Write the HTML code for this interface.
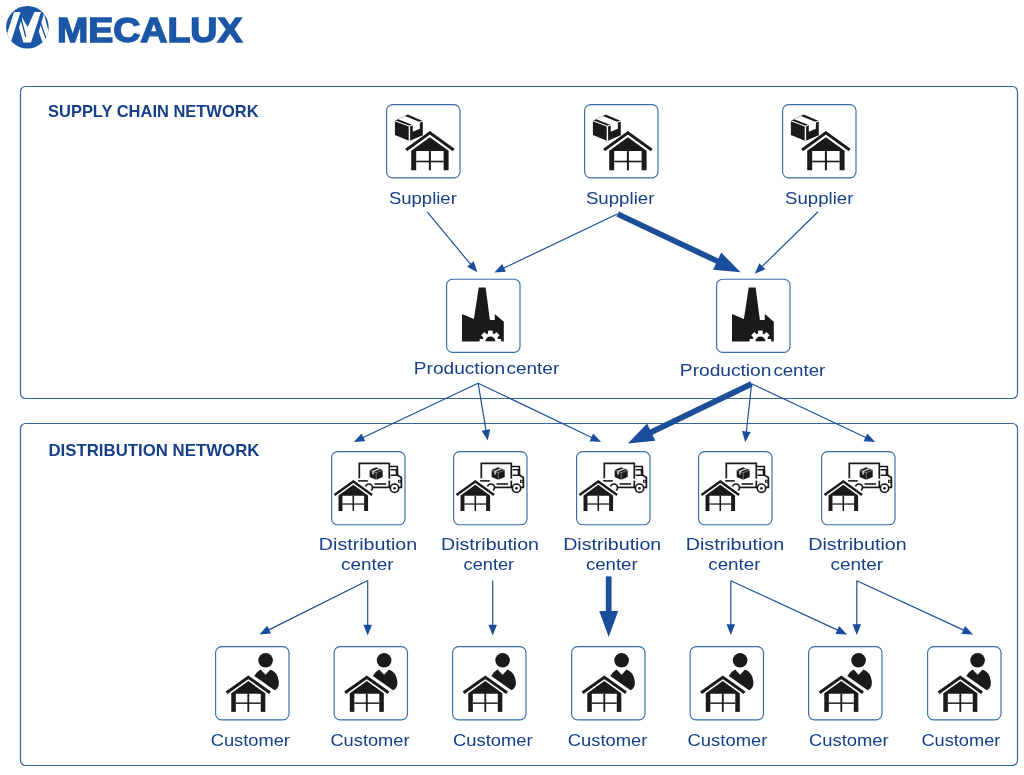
<!DOCTYPE html>
<html><head><meta charset="utf-8">
<style>
html,body{margin:0;padding:0;background:#fff;}
body{width:1024px;height:775px;overflow:hidden;position:relative;font-family:"Liberation Sans",sans-serif;}
svg{position:absolute;left:0;top:0;will-change:transform;}
.lbl{font-family:"Liberation Sans",sans-serif;font-size:17px;fill:#163f88;}
.hd{font-family:"Liberation Sans",sans-serif;font-size:17px;font-weight:bold;fill:#163f88;}
</style></head>
<body>
<svg width="1024" height="775" viewBox="0 0 1024 775">
<defs>
  <!-- house: apex outer at (0,0) -->
  <g id="house">
    <path d="M0,6.1 L18.7,19.6 L18.7,39.2 L13.7,39.2 L13.7,20 L-13.7,20 L-13.7,39.2 L-18.7,39.2 L-18.7,19.6 Z" fill="#1a1a1a"/>
    <rect x="-1" y="20" width="2" height="19.2" fill="#1a1a1a"/>
    <rect x="-13.7" y="29.6" width="27.4" height="1.6" fill="#1a1a1a"/>
  </g>
  <g id="ibox">
    <rect x="0.6" y="0.6" width="73.4" height="73.2" rx="6" ry="6" fill="none" stroke="#3a6ca8" stroke-width="1.15"/>
  </g>
  <g id="sup">
    
    <g transform="translate(43.9,27.1)"><polyline points="-23.8,18.9 0,1.79 23.8,18.9" fill="none" stroke="#1a1a1a" stroke-width="2.9"/><use href="#house"/></g>
    <!-- package -->
    <g>
      <polygon points="8.90,16.80 21.80,10.60 36.80,16.90 36.80,31.20 23.40,37.00 8.90,31.10" fill="#1a1a1a"/>
      <polyline points="8.90,16.80 23.40,22.20 36.80,16.90" fill="none" stroke="#fff" stroke-width="1.1"/>
      <line x1="23.40" y1="22.20" x2="23.40" y2="38.00" stroke="#fff" stroke-width="1.4"/>
      <polygon points="12.12,15.25 26.75,20.88 33.85,18.07 18.96,11.96" fill="#fff"/>
      <polygon points="26.75,20.6 33.85,17.8 33.85,24.87 26.75,27.68" fill="#fff"/>
    </g>
    <use href="#ibox"/>
  </g>
  <g id="fac">
    <path d="M32.7,9 L39.6,9 L43.9,41.3 L48.8,41.3 L48.8,35.4 L57.8,43.1 L57.8,63 L16,63 L16,35.4 L27.9,40.4 Z" fill="#1a1a1a"/>
    <g transform="translate(44.4,62.7)" fill="#fff">
      <circle r="8"/>
      <rect x="-2.3" y="-10.7" width="4.6" height="5" transform="rotate(0)"/>
      <rect x="-2.3" y="-10.7" width="4.6" height="5" transform="rotate(45)"/>
      <rect x="-2.3" y="-10.7" width="4.6" height="5" transform="rotate(90)"/>
      <rect x="-2.3" y="-10.7" width="4.6" height="5" transform="rotate(-45)"/>
      <rect x="-2.3" y="-10.7" width="4.6" height="5" transform="rotate(-90)"/>
      <path d="M-5,0.3 A5,5 0 0,1 5,0.3 Z" fill="#1a1a1a"/>
      <rect x="-12" y="0.3" width="24" height="10" fill="#fff"/>
    </g>
    <use href="#ibox"/>
  </g>
  <g id="dist">
    <g fill="none" stroke="#1a1a1a" stroke-width="1.7">
      <polyline points="28.3,27.2 28.3,12.3 58.3,12.3 58.3,27.8"/>
      <line x1="58.3" y1="29.6" x2="58.3" y2="37"/>
      <line x1="27" y1="29.9" x2="36.8" y2="29.9" stroke-width="1.6"/>
      <line x1="43.6" y1="33" x2="55" y2="33" stroke-width="1.6"/>
      <polyline points="58.6,15.5 66.3,15.5 66.6,24.2 70.4,26.4 70.4,36.4 68,36.4"/>
      <line x1="41.5" y1="36.4" x2="59.3" y2="36.4"/>
      <polyline points="59.6,18.8 65.3,18.8 65.6,24.3 59.6,24.3" stroke-width="1.5"/>
      <rect x="67.5" y="29.3" width="2.4" height="2" stroke-width="1"/>
      <circle cx="37.9" cy="36.6" r="3.6"/>
      <circle cx="63.5" cy="37.2" r="4.2"/>
    </g>
    <circle cx="63.5" cy="37.2" r="1.3" fill="#1a1a1a"/>
    <g transform="translate(45.2,22) scale(0.5)">
      <polygon points="-13,-6 0,-11.5 13,-6 13,8 0,13.5 -13,8" fill="#1a1a1a"/>
      <polyline points="-13,-6 0,-0.5 13,-6" fill="none" stroke="#fff" stroke-width="1.2" opacity="0.7"/>
      <line x1="0" y1="-0.5" x2="0" y2="14" stroke="#fff" stroke-width="1.3" opacity="0.6"/>
      <polygon points="-8.06,-3.91 -4.94,-2.59 8.06,-8.09 4.94,-9.41" fill="#fff" opacity="0.85"/>
      <polygon points="-8.06,-3.91 -4.94,-2.59 -4.94,3.6 -8.06,2.3" fill="#fff" opacity="0.85"/>
    </g>
    <g transform="translate(22.3,29) scale(0.79)">
      <polyline points="-27,20.6 0,1.79 27,20.6" fill="none" stroke="#fff" stroke-width="7"/>
      <polyline points="-23.8,18.9 0,1.79 23.8,18.9" fill="none" stroke="#1a1a1a" stroke-width="3"/>
      <use href="#house"/>
    </g>
    <use href="#ibox"/>
  </g>
  <g id="cust">
    <circle cx="50.6" cy="14.3" r="7.3" fill="#1a1a1a"/>
    <path d="M39.3,29.9 Q41.5,25.8 45.6,23.6 L50.6,28.8 L55.5,23.6 Q62.5,26 63.9,35.5 Q64.2,42.5 59.6,44.3 Z" fill="#1a1a1a"/>
    <g transform="translate(33.3,29.5) scale(0.91)">
      <polyline points="-27,20.6 0,1.9 27,20.6" fill="none" stroke="#fff" stroke-width="6.4"/>
      <polyline points="-23.9,19.0 0,1.9 23.9,19.0" fill="none" stroke="#1a1a1a" stroke-width="3.3"/>
      <use href="#house"/>
      <rect x="-18.7" y="39" width="5" height="0.9" fill="#1a1a1a"/>
      <rect x="13.7" y="39" width="5" height="0.9" fill="#1a1a1a"/>
      <rect x="-1" y="39" width="2" height="0.9" fill="#1a1a1a"/>
    </g>
    <use href="#ibox"/>
  </g>
</defs>

<g id="logo">
<clipPath id="lc"><circle cx="27.4" cy="27.2" r="21.3"/></clipPath>
<circle cx="27.4" cy="27.2" r="21.3" fill="#1b57a6"/>
<g clip-path="url(#lc)" fill="#fff">
  <polygon points="14.0,11.9 20.5,11.9 7.7,51.9 1.2,51.9"/>
  <polygon points="34.4,11.9 41,11.9 31,42.5 23.4,42.6 19.0,27.8 22.0,17.6 27.7,27.1"/>
  <polygon points="43.9,13.8 38.8,31.5 42.3,41.8 60,64 60,50 51.6,42.8"/>
</g>
<g clip-path="url(#lc)" stroke="#14469a" fill="none">
  <line x1="20.9" y1="18.5" x2="25.8" y2="36.8" stroke-width="1.3"/>
  <line x1="40.4" y1="22.5" x2="46.0" y2="38.6" stroke-width="1.3"/>
</g>
<text x="57.0" y="41.7" font-family="Liberation Sans" font-weight="bold" font-size="35" fill="#1b57a6" stroke="#1b57a6" stroke-width="1.4" textLength="185.5" lengthAdjust="spacingAndGlyphs">MECALUX</text>
</g>
<!-- outer frames -->
<rect x="20.5" y="86.5" width="997" height="312" rx="5" ry="5" fill="none" stroke="#35649f" stroke-width="1.2"/>
<rect x="20.5" y="423.5" width="997" height="342" rx="5" ry="5" fill="none" stroke="#35649f" stroke-width="1.2"/>


<use href="#sup" x="386" y="104"/>
<use href="#sup" x="584" y="104"/>
<use href="#sup" x="782" y="104"/>


<use href="#fac" x="446" y="278.6"/>
<use href="#fac" x="716" y="278.6"/>

<use href="#dist" x="331" y="451"/>
<use href="#dist" x="453" y="451"/>
<use href="#dist" x="576" y="451"/>
<use href="#dist" x="698" y="451"/>
<use href="#dist" x="821" y="451"/>

<use href="#cust" x="215" y="646"/>
<use href="#cust" x="333.5" y="646"/>
<use href="#cust" x="452" y="646"/>
<use href="#cust" x="571" y="646"/>
<use href="#cust" x="689.5" y="646"/>
<use href="#cust" x="808" y="646"/>
<use href="#cust" x="927" y="646"/>

<g id="arrows" stroke="#1d4f98" fill="#1a4e9c">
<line x1="427.2" y1="211.8" x2="471.0" y2="264.8" stroke-width="1.2"/>
<polygon stroke="none" points="477.3,272.3 467.1,266.7 473.7,261.2"/>
<line x1="617.3" y1="214.0" x2="503.1" y2="268.4" stroke-width="1.2"/>
<polygon stroke="none" points="494.3,272.6 502.2,264.1 505.9,271.8"/>
<line x1="617.6" y1="214.0" x2="718.0" y2="261.5" stroke-width="5.8"/>
<polygon stroke="none" points="740.6,272.2 713.0,269.7 721.2,252.5"/>
<line x1="818.0" y1="211.7" x2="761.7" y2="266.9" stroke-width="1.2"/>
<polygon stroke="none" points="754.7,273.8 759.4,263.2 765.4,269.3"/>
<line x1="478.1" y1="383.2" x2="362.6" y2="437.8" stroke-width="1.2"/>
<polygon stroke="none" points="353.7,442.0 361.6,433.5 365.3,441.3"/>
<line x1="478.1" y1="383.2" x2="486.1" y2="430.9" stroke-width="1.2"/>
<polygon stroke="none" points="487.7,440.6 481.7,430.7 490.2,429.2"/>
<line x1="478.1" y1="383.2" x2="592.3" y2="437.8" stroke-width="1.2"/>
<polygon stroke="none" points="601.1,442.0 589.5,441.2 593.2,433.5"/>
<line x1="751.6" y1="383.8" x2="650.3" y2="432.6" stroke-width="5.8"/>
<polygon stroke="none" points="627.8,443.4 647.1,423.6 655.3,440.7"/>
<line x1="751.6" y1="383.8" x2="746.3" y2="432.5" stroke-width="1.2"/>
<polygon stroke="none" points="745.2,442.2 742.1,431.0 750.7,431.9"/>
<line x1="751.6" y1="383.8" x2="866.3" y2="437.8" stroke-width="1.2"/>
<polygon stroke="none" points="875.2,442.0 863.6,441.3 867.3,433.5"/>
<line x1="367.7" y1="580.5" x2="268.3" y2="630.1" stroke-width="1.2"/>
<polygon stroke="none" points="259.5,634.5 267.2,625.8 271.1,633.5"/>
<line x1="367.7" y1="580.5" x2="367.7" y2="625.8" stroke-width="1.2"/>
<polygon stroke="none" points="367.7,635.6 363.4,624.8 372.0,624.8"/>
<line x1="492.7" y1="580.5" x2="492.7" y2="625.8" stroke-width="1.2"/>
<polygon stroke="none" points="492.7,635.6 488.4,624.8 497.0,624.8"/>
<line x1="608.7" y1="576.4" x2="608.7" y2="612.0" stroke-width="5.8"/>
<polygon stroke="none" points="608.7,637.0 599.2,611.0 618.2,611.0"/>
<line x1="730.8" y1="580.8" x2="730.8" y2="625.2" stroke-width="1.2"/>
<polygon stroke="none" points="730.8,635.0 726.5,624.2 735.1,624.2"/>
<line x1="730.8" y1="580.8" x2="838.2" y2="630.4" stroke-width="1.2"/>
<polygon stroke="none" points="847.1,634.5 835.5,633.9 839.1,626.1"/>
<line x1="856.8" y1="580.8" x2="856.8" y2="625.2" stroke-width="1.2"/>
<polygon stroke="none" points="856.8,635.0 852.5,624.2 861.1,624.2"/>
<line x1="856.8" y1="580.8" x2="964.2" y2="630.4" stroke-width="1.2"/>
<polygon stroke="none" points="973.1,634.5 961.5,633.9 965.1,626.1"/>
</g>
<!--TEXTS-->
<text class="hd" x="48.03" y="117.20" textLength="210.51" lengthAdjust="spacingAndGlyphs">SUPPLY CHAIN NETWORK</text>
<text class="hd" x="48.41" y="455.50" textLength="211.02" lengthAdjust="spacingAndGlyphs">DISTRIBUTION NETWORK</text>
<text class="lbl" x="388.91" y="204.30" textLength="67.90" lengthAdjust="spacingAndGlyphs">Supplier</text>
<text class="lbl" x="585.90" y="204.30" textLength="68.51" lengthAdjust="spacingAndGlyphs">Supplier</text>
<text class="lbl" x="785.00" y="204.30" textLength="68.41" lengthAdjust="spacingAndGlyphs">Supplier</text>
<text class="lbl" x="413.88" y="374.30" textLength="91.26" lengthAdjust="spacingAndGlyphs">Production</text>
<text class="lbl" x="506.48" y="374.30" textLength="52.80" lengthAdjust="spacingAndGlyphs">center</text>
<text class="lbl" x="679.87" y="376.30" textLength="91.57" lengthAdjust="spacingAndGlyphs">Production</text>
<text class="lbl" x="773.40" y="376.30" textLength="51.87" lengthAdjust="spacingAndGlyphs">center</text>
<text class="lbl" x="318.84" y="549.90" textLength="98.37" lengthAdjust="spacingAndGlyphs">Distribution</text>
<text class="lbl" x="341.09" y="569.80" textLength="52.59" lengthAdjust="spacingAndGlyphs">center</text>
<text class="lbl" x="441.05" y="549.90" textLength="97.96" lengthAdjust="spacingAndGlyphs">Distribution</text>
<text class="lbl" x="463.63" y="569.80" textLength="50.54" lengthAdjust="spacingAndGlyphs">center</text>
<text class="lbl" x="563.15" y="549.90" textLength="98.16" lengthAdjust="spacingAndGlyphs">Distribution</text>
<text class="lbl" x="585.90" y="569.80" textLength="51.77" lengthAdjust="spacingAndGlyphs">center</text>
<text class="lbl" x="685.74" y="549.90" textLength="98.47" lengthAdjust="spacingAndGlyphs">Distribution</text>
<text class="lbl" x="708.30" y="569.80" textLength="52.18" lengthAdjust="spacingAndGlyphs">center</text>
<text class="lbl" x="808.24" y="549.90" textLength="98.47" lengthAdjust="spacingAndGlyphs">Distribution</text>
<text class="lbl" x="830.59" y="569.80" textLength="52.49" lengthAdjust="spacingAndGlyphs">center</text>
<text class="lbl" x="210.73" y="745.60" textLength="79.21" lengthAdjust="spacingAndGlyphs">Customer</text>
<text class="lbl" x="330.43" y="745.60" textLength="79.11" lengthAdjust="spacingAndGlyphs">Customer</text>
<text class="lbl" x="452.92" y="745.60" textLength="79.83" lengthAdjust="spacingAndGlyphs">Customer</text>
<text class="lbl" x="567.82" y="745.60" textLength="79.62" lengthAdjust="spacingAndGlyphs">Customer</text>
<text class="lbl" x="687.52" y="745.60" textLength="79.83" lengthAdjust="spacingAndGlyphs">Customer</text>
<text class="lbl" x="808.92" y="745.60" textLength="79.83" lengthAdjust="spacingAndGlyphs">Customer</text>
<text class="lbl" x="921.43" y="745.60" textLength="78.91" lengthAdjust="spacingAndGlyphs">Customer</text>
<!--/TEXTS-->
</svg>
</body></html>
